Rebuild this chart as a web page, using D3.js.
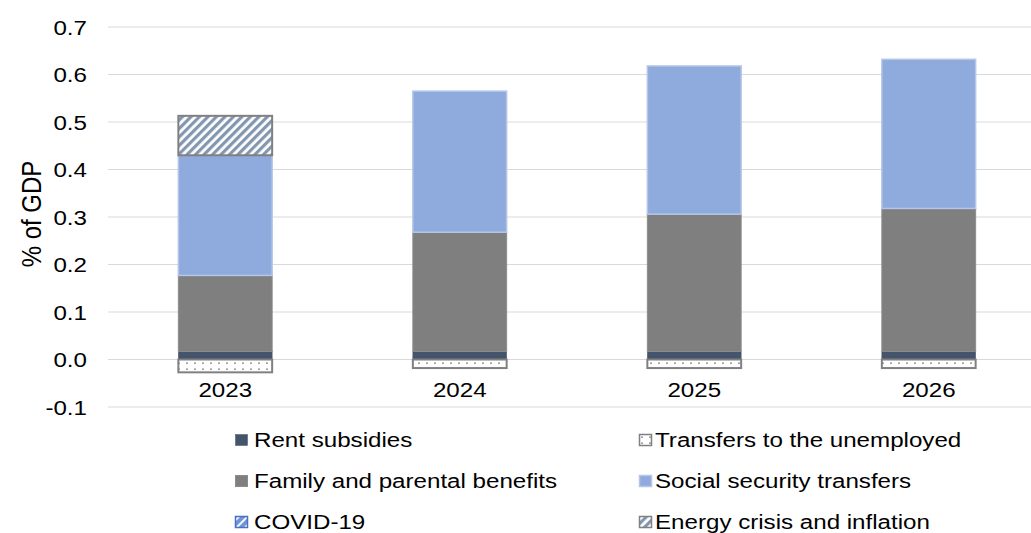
<!DOCTYPE html>
<html>
<head>
<meta charset="utf-8">
<script src="https://cdn.jsdelivr.net/npm/d3@7"></script>
<style>
  html, body { margin: 0; padding: 0; background: #fff; }
  svg text { font-family: "Liberation Sans", Arial, sans-serif; fill: #000; }
</style>
</head>
<body>
<svg id="chart" width="1031" height="533"></svg>
<script>
// Categories and series (% of GDP)
const years = ["2023", "2024", "2025", "2026"];
const rentSubsidies = [0.017, 0.017, 0.017, 0.017];
const familyBenefits = [0.160, 0.251, 0.289, 0.301];
const socialSecurity = [0.253, 0.297, 0.312, 0.314];
const covid19 = [0, 0, 0, 0];
const energyCrisis = [0.083, 0, 0, 0];
const unemployed = [-0.027, -0.018, -0.018, -0.018];
const yTicks = [-0.1, 0.0, 0.1, 0.2, 0.3, 0.4, 0.5, 0.6, 0.7];

const series = [
  { key: "rent", name: "Rent subsidies", values: rentSubsidies, fill: "#44546a", stroke: "#44546a", sw: 0.5 },
  { key: "family", name: "Family and parental benefits", values: familyBenefits, fill: "#7f7f7f", stroke: "#8c8c8c", sw: 1 },
  { key: "social", name: "Social security transfers", values: socialSecurity, fill: "#8faadc", stroke: "#b4c7e7", sw: 1.5 },
  { key: "covid", name: "COVID-19", values: covid19, fill: "url(#covidPat)", stroke: "#4472c4", sw: 1.5 },
  { key: "energy", name: "Energy crisis and inflation", values: energyCrisis, fill: "url(#energyPat)", stroke: "#808080", sw: 2 },
  { key: "unemp", name: "Transfers to the unemployed", values: unemployed, fill: "url(#dotPat)", stroke: "#808080", sw: 2 }
];

// Text is drawn slightly wide
const stretch = "scale(1.15,1)";

const svg = d3.select("#chart");
const margin = { left: 108, top: 27 };
const plotRight = 1046;

const x = d3.scaleBand().domain(years).range([margin.left, plotRight]).paddingInner(0.6).paddingOuter(0.3);
const y = d3.scaleLinear().domain([-0.1, 0.7]).range([407, 27]);

// Patterns
const defs = svg.append("defs");
const ep = defs.append("pattern").attr("id", "energyPat").attr("patternUnits", "userSpaceOnUse")
  .attr("width", 6).attr("height", 6).attr("patternTransform", "rotate(45)");
ep.append("rect").attr("width", 6).attr("height", 6).attr("fill", "#fff");
ep.append("rect").attr("width", 3.2).attr("height", 6).attr("fill", "#8497b0");

const cp = defs.append("pattern").attr("id", "covidPat").attr("patternUnits", "userSpaceOnUse")
  .attr("width", 6).attr("height", 6).attr("patternTransform", "rotate(45)");
cp.append("rect").attr("width", 6).attr("height", 6).attr("fill", "#fff");
cp.append("rect").attr("width", 4).attr("height", 6).attr("fill", "#6f94d8");

const dp = defs.append("pattern").attr("id", "dotPat").attr("patternUnits", "userSpaceOnUse")
  .attr("width", 8).attr("height", 6);
dp.append("rect").attr("width", 8).attr("height", 6).attr("fill", "#fff");
dp.append("rect").attr("x", 2).attr("y", 2.5).attr("width", 2).attr("height", 1.3).attr("fill", "#8a8a8a");

// Gridlines
svg.append("g").selectAll("line").data(yTicks).join("line")
  .attr("x1", margin.left).attr("x2", plotRight)
  .attr("y1", d => y(d)).attr("y2", d => y(d))
  .attr("stroke", "#d9d9d9").attr("stroke-width", 1.2);

// Y axis labels
const yAxis = d3.axisLeft(y).tickValues(yTicks).tickFormat(d3.format(".1f")).tickSize(0).tickPadding(0);
const ya = svg.append("g").attr("transform", "translate(87,0)").call(yAxis);
ya.select(".domain").remove();
ya.selectAll("text").attr("font-size", 21).attr("font-family", "Liberation Sans, Arial, sans-serif")
  .attr("fill", "#000").attr("dy", "0.35em").attr("transform", stretch)
  .text(d => d3.format(".1f")(d).replace("−", "-"));

// Stack positive series upward, negative downward
const stacked = [];
years.forEach((yr, i) => {
  let pos = 0, neg = 0;
  series.forEach(s => {
    const v = s.values[i];
    if (v === 0) return;
    let y0, y1;
    if (v > 0) { y0 = pos; y1 = pos + v; pos = y1; }
    else { y0 = neg; y1 = neg + v; neg = y1; }
    stacked.push({ year: yr, s, y0, y1 });
  });
});

svg.append("g").selectAll("rect").data(stacked).join("rect")
  .attr("x", d => x(d.year))
  .attr("width", x.bandwidth())
  .attr("y", d => y(Math.max(d.y0, d.y1)))
  .attr("height", d => Math.abs(y(d.y0) - y(d.y1)))
  .attr("fill", d => d.s.fill)
  .attr("stroke", d => d.s.stroke)
  .attr("stroke-width", d => d.s.sw);

// X axis labels
const xAxis = d3.axisBottom(x).tickSize(0).tickPadding(0);
const xa = svg.append("g").attr("transform", "translate(0,390)").call(xAxis);
xa.select(".domain").remove();
xa.selectAll("text").attr("font-size", 21).attr("font-family", "Liberation Sans, Arial, sans-serif")
  .attr("fill", "#000").attr("y", 0).attr("dy", "0.35em").attr("transform", stretch);

// Y axis title
svg.append("text")
  .attr("transform", "translate(31,214) scale(1.15,1) rotate(-90)")
  .attr("text-anchor", "middle")
  .attr("dy", "0.35em")
  .attr("font-size", 24)
  .text("% of GDP");

// Legend
const legendOrder = ["rent", "unemp", "family", "social", "covid", "energy"];
const colX = [235, 639];
const rowY = [440, 481, 522];
const lg = svg.append("g").selectAll("g").data(legendOrder.map(k => series.find(s => s.key === k))).join("g")
  .attr("transform", (d, i) => `translate(${colX[i % 2]},${rowY[Math.floor(i / 2)]})`);
lg.append("rect").attr("x", 0.5).attr("y", -5.5).attr("width", 12).attr("height", 11)
  .attr("fill", d => d.fill).attr("stroke", d => d.stroke).attr("stroke-width", d => Math.min(d.sw, 1.5));
lg.append("text").attr("x", 0).attr("y", 0).attr("dy", "0.35em").attr("font-size", 21)
  .attr("transform", (d, i) => `translate(${i % 2 ? 16 : 19},0) ${stretch}`)
  .text(d => d.name);
</script>
</body>
</html>
